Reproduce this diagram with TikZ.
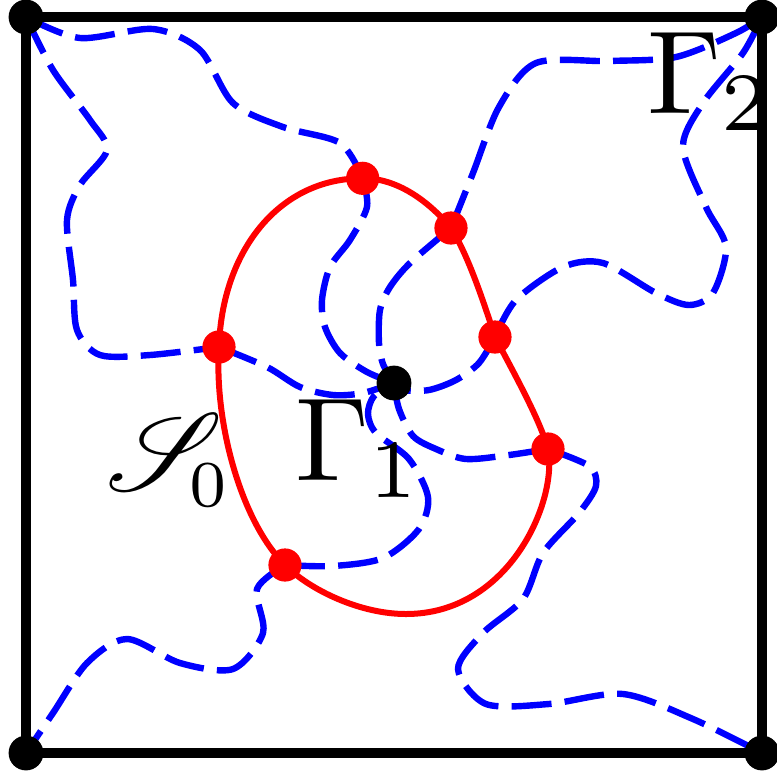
\documentclass[tikz,border=0pt]{standalone}
\usepackage{graphicx}
\usepackage{mathrsfs}
\begin{document}
\begin{tikzpicture}[x=0.25pt,y=-0.25pt,
 blueline/.style={draw=blue, line width=1.6pt, dash pattern=on 10pt off 3.3pt},
 redline/.style={draw=red, line width=1.5pt},
 frame/.style={draw=black, line width=2.5pt},
 bdot/.style={circle, fill=black, inner sep=0pt, minimum size=8.7pt},
 rdot/.style={circle, fill=red, inner sep=0pt, minimum size=8.3pt},
 lbl/.style={scale=2.96, anchor=base west, inner sep=0pt}]
\useasboundingbox (0,0) rectangle (776,776);
% key points
\coordinate (TL) at (26,17);
\coordinate (TR) at (762,17);
\coordinate (BL) at (26,753);
\coordinate (BR) at (762,753);
\coordinate (C) at (394,383);
\coordinate (P1) at (362.7,178.3);
\coordinate (P2) at (451,228);
\coordinate (P3) at (495,337);
\coordinate (P4) at (548,449);
\coordinate (P5) at (285,565);
\coordinate (P6) at (219,347);
\coordinate (Bot) at (406,614);
% blue dashed curves
\draw[blueline] plot[smooth] coordinates {(TL) (80,38) (153,29) (200,50) (233,103) (283,127) (340,143) (P1)};
\draw[blueline] plot[smooth] coordinates {(TL) (53,70) (90,120) (107,150) (80,185) (67,220) (73,280) (77,330) (100,355) (150,355) (P6)};
\draw[blueline] plot[smooth] coordinates {(P1) (367,207) (350,240) (330,267) (322,300) (325,327) (340,353) (367,372) (C)};
\draw[blueline] plot[smooth] coordinates {(P6) (267,367) (300,387) (333,395) (363,393) (C)};
\draw[blueline] plot[smooth] coordinates {(P2) (410,263) (390,287) (380,310) (379,343) (383,364) (C)};
\draw[blueline] plot[smooth] coordinates {(P2) (473,173) (499,107) (536,63) (609,61) (676,57) (736,33) (TR)};
\draw[blueline] plot[smooth] coordinates {(P3) (516,300) (563,267) (603,263) (656,293) (689,305) (713,293) (726,247) (706,207) (683,147) (703,103) (743,53) (TR)};
\draw[blueline] plot[smooth] coordinates {(P3) (479,363) (456,380) (429,390) (403,390) (C)};
\draw[blueline] plot[smooth] coordinates {(P4) (509,455) (466,459) (436,449) (413,436) (399,409) (C)};
\draw[blueline] plot[smooth] coordinates {(P4) (589,466) (596,486) (579,513) (543,553) (523,599) (483,633) (458,669) (486,704) (549,704) (623,694) (693,719) (BR)};
\draw[blueline] plot[smooth] coordinates {(P5) (257,589) (263,633) (233,669) (180,663) (127,639) (87,663) (53,713) (BL)};
\draw[blueline] plot[smooth] coordinates {(P5) (333,566) (383,558) (419,529) (428,497) (409,459) (376,433) (368,414) (374,396) (C)};
% red closed curve
\draw[redline] (P6) .. controls (222,250) and (280,178) .. (P1)
  .. controls (400,178) and (432,205) .. (P2)
  .. controls (468,255) and (483,300) .. (P3)
  .. controls (515,375) and (540,420) .. (P4)
  .. controls (558,500) and (510,614) .. (Bot)
  .. controls (360,614) and (310,590) .. (P5)
  .. controls (240,520) and (214,420) .. (P6) -- cycle;
% frame
\draw[frame] (TL) rectangle (BR);
% dots
\node[bdot] (dTL) at (TL) {};
\node[bdot] (dTR) at (TR) {};
\node[bdot] (dBL) at (BL) {};
\node[bdot] (dBR) at (BR) {};
\node[bdot] (dC) at (C) {};
\node[rdot] (d1) at (P1) {};
\node[rdot] (d2) at (P2) {};
\node[rdot] (d3) at (P3) {};
\node[rdot] (d4) at (P4) {};
\node[rdot] (d5) at (P5) {};
\node[rdot] (d6) at (P6) {};
% labels
\node[lbl] (g2) at (645,113) {$\Gamma_2$};
\node[lbl] (g1) at (293,480) {$\Gamma_1$};
\node[lbl, scale=0.93] (s0) at (104,490) {${\mathscr{S}\kern-3pt}_{\scalebox{0.85}{$\scriptstyle 0$}}$};
\end{tikzpicture}
\end{document}
